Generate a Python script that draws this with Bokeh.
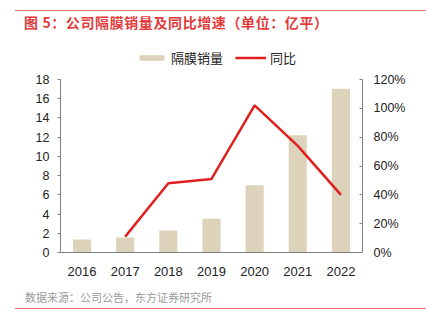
from bokeh.plotting import figure
from bokeh.models import (ColumnDataSource, FactorRange, Range1d, LinearAxis, FixedTicker,
                          NumeralTickFormatter, Legend, LegendItem, Div)
from bokeh.layouts import column
from bokeh.embed import file_html
from bokeh.resources import INLINE

years = ["2016", "2017", "2018", "2019", "2020", "2021", "2022"]
volume = [1.35, 1.55, 2.3, 3.5, 7.0, 12.2, 17.05]
yoy_years = ["2017", "2018", "2019", "2020", "2021", "2022"]
yoy = [0.11, 0.48, 0.51, 1.02, 0.74, 0.40]
left_ticks = [0, 2, 4, 6, 8, 10, 12, 14, 16, 18]
right_ticks = [0, 0.2, 0.4, 0.6, 0.8, 1.0, 1.2]

title_text = "图 5：公司隔膜销量及同比增速（单位：亿平）"
source_text = "数据来源：公司公告，东方证券研究所"

W = 426
TOP_H = 35
BOT_H = 40
FIG_H = 324 - TOP_H - BOT_H
FL, FR = 60, 64
FRAME_TOP = 40          # canvas y of frame top
AXIS_TOP = 79           # canvas y of the axis maximum
AXIS_BOT = 252          # canvas y of zero
FT = FRAME_TOP - TOP_H
FB = (TOP_H + FIG_H) - AXIS_BOT
frame_h = AXIS_BOT - FRAME_TOP
ext = frame_h / (AXIS_BOT - AXIS_TOP)   # extend ranges so the legend fits above the axes
L_MAX, R_MAX = 18, 1.2

num_font = "Liberation Sans"
cjk_font = "Noto Sans CJK SC"

top = Div(width=W, height=TOP_H, margin=0, text=(
    '<div style="position:relative;width:426px;height:%dpx;">'
    '<div style="position:absolute;left:15px;top:10px;width:411px;height:0;border-top:1px solid #E57373;"></div>'
    '<div style="position:absolute;left:24px;top:13px;font-family:\'Noto Sans CJK SC\';font-weight:bold;'
    'font-size:14px;letter-spacing:0.6px;line-height:18px;color:#E33B3B;white-space:nowrap;">%s</div></div>') % (TOP_H, title_text))

bottom = Div(width=W, height=BOT_H, margin=0, text=(
    '<div style="position:relative;width:426px;height:%dpx;">'
    '<div style="position:absolute;left:25px;top:5px;font-family:\'Noto Sans CJK SC\';'
    'font-size:11px;line-height:16px;color:#9A9A9A;white-space:nowrap;">%s</div>'
    '<div style="position:absolute;left:15px;top:24px;width:411px;height:0;border-top:1.5px solid #E57373;"></div>'
    '</div>') % (BOT_H, source_text))

p = figure(width=W, height=FIG_H, x_range=FactorRange(*years, range_padding=0),
           y_range=Range1d(0, L_MAX * ext), output_backend="svg", toolbar_location=None,
           min_border_left=FL, min_border_right=FR, min_border_top=FT, min_border_bottom=FB, margin=0)
p.extra_y_ranges = {"pct": Range1d(0, R_MAX * ext)}
p.outline_line_color = None
p.xgrid.grid_line_color = None
p.ygrid.grid_line_color = None

bar_src = ColumnDataSource(dict(x=years, top=volume))
line_src = ColumnDataSource(dict(x=yoy_years, y=yoy))
bars = p.vbar(x="x", top="top", width=0.42, source=bar_src, fill_color="#DDD3BB", line_color=None)
line = p.line(x="x", y="y", source=line_src, line_color="#E0201E", line_width=2.5, y_range_name="pct")

ax = p.xaxis[0]
ax.axis_line_color = "#808080"
ax.major_tick_line_color = None
ax.minor_tick_line_color = None
ax.major_label_text_font = num_font
ax.major_label_text_font_size = "13px"
ax.major_label_text_color = "#222222"
ax.major_label_standoff = 8

ly = p.yaxis[0]
ly.ticker = FixedTicker(ticks=left_ticks)
ly.bounds = (0, L_MAX)
ly.axis_line_color = "#808080"
ly.major_tick_line_color = "#808080"
ly.major_tick_out = 3
ly.major_tick_in = 0
ly.minor_tick_line_color = None
ly.major_label_text_font = num_font
ly.major_label_text_font_size = "12.5px"
ly.major_label_text_color = "#222222"
ly.major_label_standoff = 8

ry = LinearAxis(y_range_name="pct", ticker=FixedTicker(ticks=right_ticks),
                formatter=NumeralTickFormatter(format="0%"), bounds=(0, R_MAX))
ry.axis_line_color = "#808080"
ry.major_tick_line_color = "#808080"
ry.major_tick_out = 0
ry.major_tick_in = 3
ry.minor_tick_line_color = None
ry.major_label_text_font = num_font
ry.major_label_text_font_size = "12.5px"
ry.major_label_text_color = "#222222"
ry.major_label_standoff = 11
p.add_layout(ry, "right")

legend = Legend(items=[LegendItem(label="隔膜销量", renderers=[bars]),
                       LegendItem(label="同比", renderers=[line])],
                orientation="horizontal", location=(76, AXIS_BOT - 67),
                label_text_font=cjk_font, label_text_font_size="13px", label_text_color="#222222",
                glyph_width=31, glyph_height=7, label_standoff=4, spacing=12,
                padding=0, margin=0, border_line_color=None, background_fill_alpha=0)
p.add_layout(legend, "center")

layout = column(top, p, bottom, width=W, spacing=0, margin=0)
open("out.html", "w").write(file_html(layout, INLINE))
